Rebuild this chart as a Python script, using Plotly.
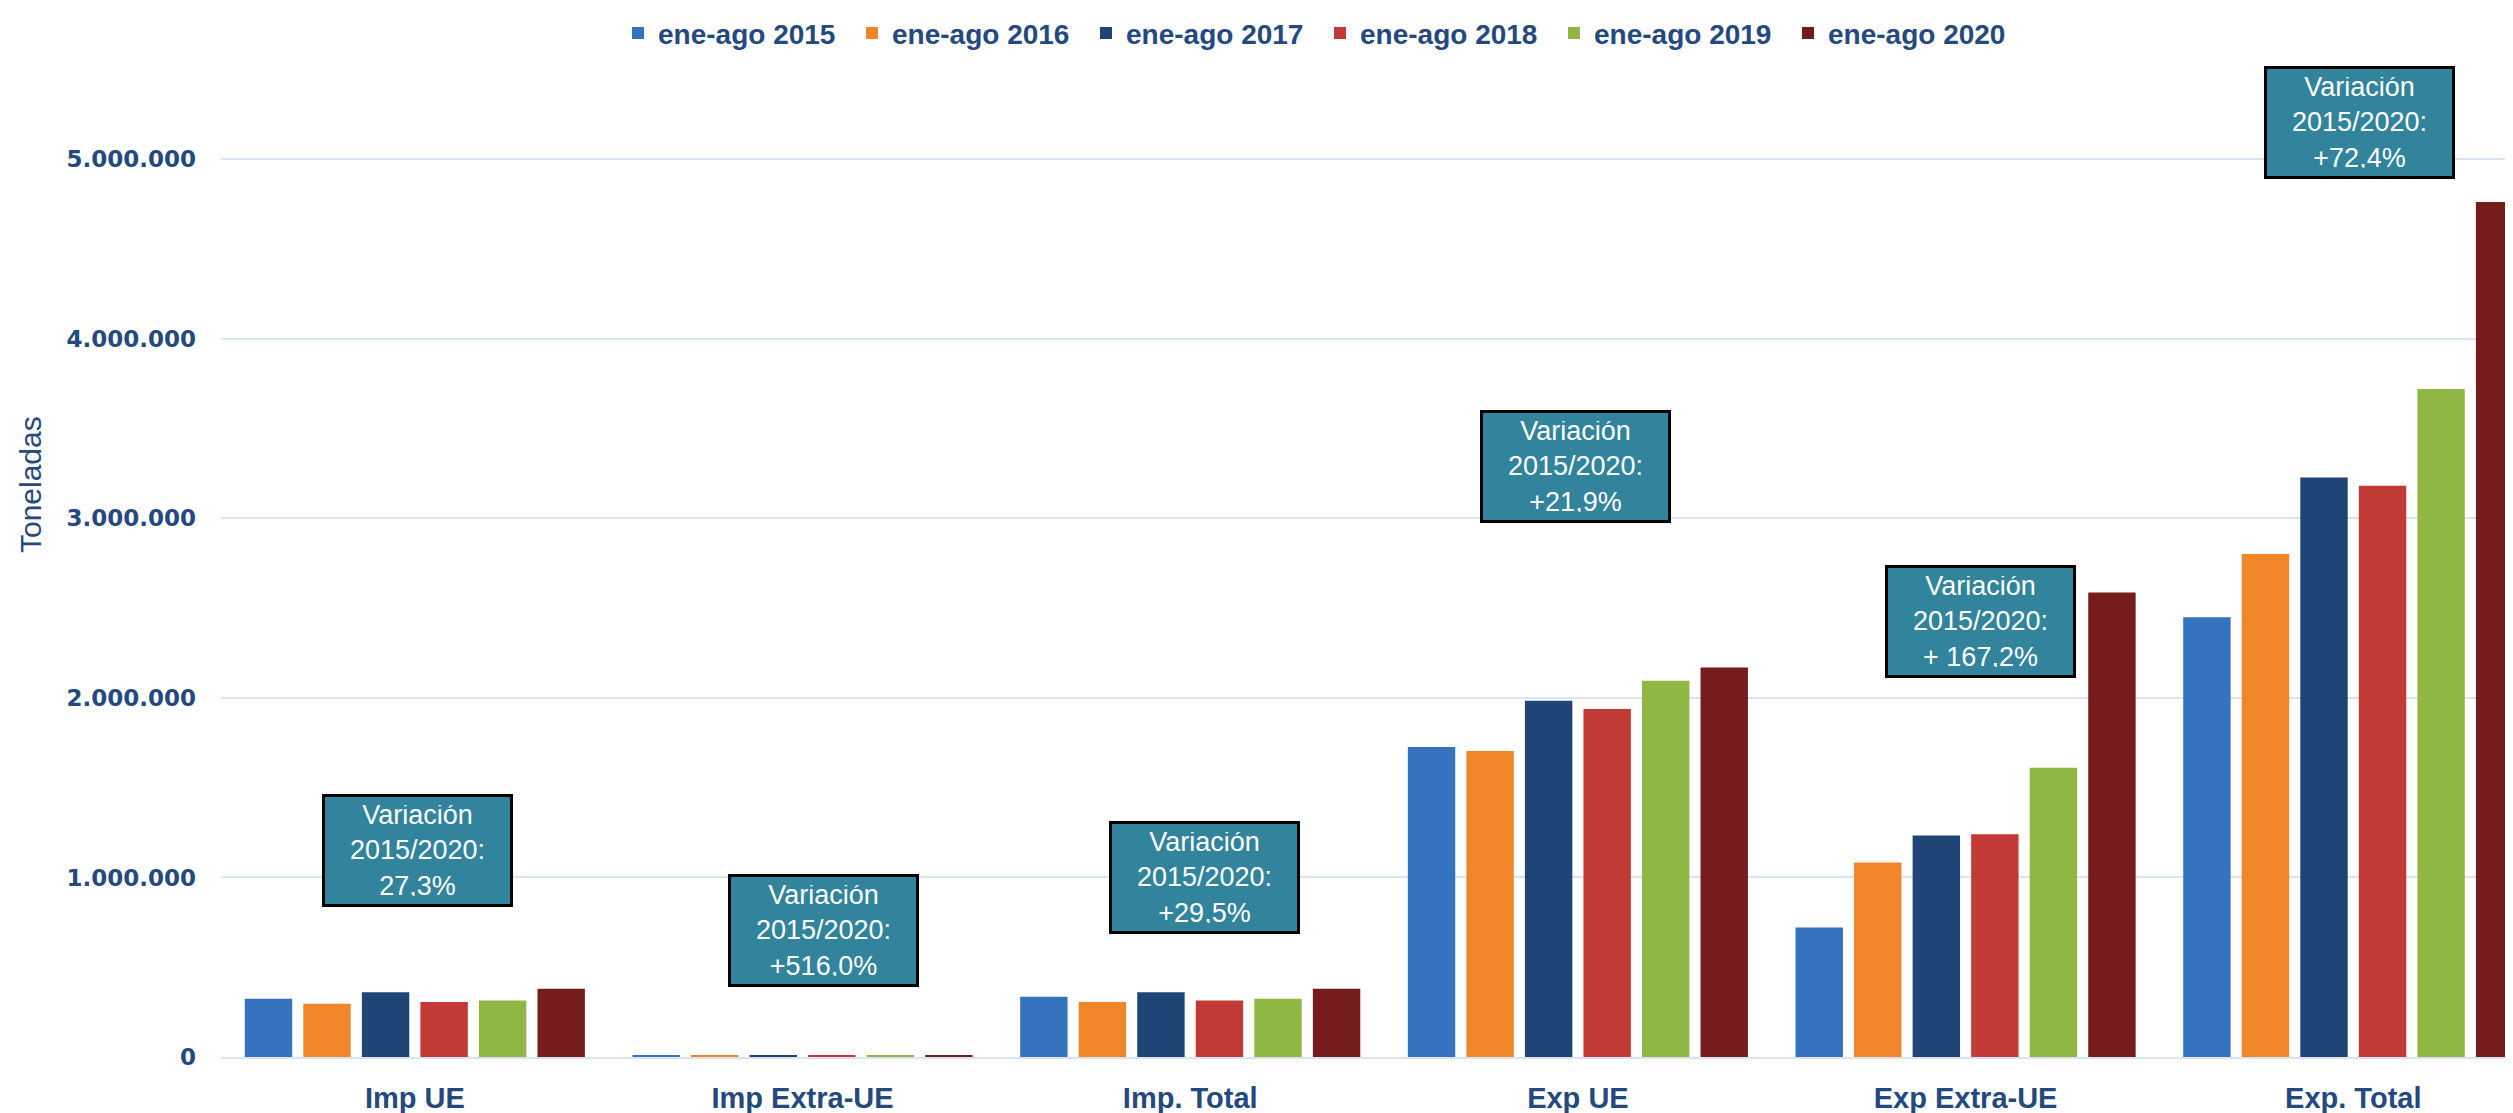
import plotly.graph_objects as go

categories = ["Imp UE", "Imp Extra-UE", "Imp. Total", "Exp UE", "Exp Extra-UE", "Exp. Total"]
series_names = ["ene-ago 2015", "ene-ago 2016", "ene-ago 2017", "ene-ago 2018", "ene-ago 2019", "ene-ago 2020"]

v2015 = [325000, 6000, 335000, 1726000, 721000, 2449000]
v2016 = [297000, 7000, 306000, 1705000, 1084000, 2802000]
v2017 = [361000, 8000, 361000, 1984000, 1233000, 3228000]
v2018 = [306000, 7500, 315000, 1938000, 1241000, 3182000]
v2019 = [315000, 8500, 325000, 2096000, 1611000, 3721000]
v2020 = [380000, 9500, 380000, 2170000, 2587000, 4762000]
series_values = [v2015, v2016, v2017, v2018, v2019, v2020]

colors = ["#3673BE", "#F0852A", "#1E4576", "#C23A36", "#90B744", "#751D1C"]

y_ticks = [0, 1000000, 2000000, 3000000, 4000000, 5000000]
y_tick_labels = ["0", "1.000.000", "2.000.000", "3.000.000", "4.000.000", "5.000.000"]

variation_texts = [
    "Variación<br>2015/2020:<br>27,3%",
    "Variación<br>2015/2020:<br>+516,0%",
    "Variación<br>2015/2020:<br>+29,5%",
    "Variación<br>2015/2020:<br>+21,9%",
    "Variación<br>2015/2020:<br>+ 167,2%",
    "Variación<br>2015/2020:<br>+72,4%",
]
# layout placement of the variation boxes (x in category units, y in data units)
box_x = [0.008, 1.055, 2.036, 2.993, 4.038, 5.015]
box_y = [1150000, 702000, 1001000, 3291000, 2423000, 5205000]

TXT = "#23497E"

# page geometry (the page body adds an 8px offset)
W, H = 2505, 1105
L, R, T, B = 213, 0, 52, 56
PW, PH = W - L - R, H - T - B


def paper_x(page_x):
    return (page_x - 8 - L) / PW


def paper_y(page_y):
    return (H - B - (page_y - 8)) / PH


fig = go.Figure()
for name, vals, col in zip(series_names, series_values, colors):
    fig.add_trace(go.Bar(name=name, x=categories, y=vals, marker=dict(color=col, line=dict(width=0))))

for t, x, y in zip(variation_texts, box_x, box_y):
    fig.add_annotation(
        x=x, y=y, xref="x", yref="y", text=t, showarrow=False,
        font=dict(family="Liberation Sans, Arial, sans-serif", size=27, color="white"),
        bgcolor="#31849B", bordercolor="black", borderwidth=3, borderpad=8,
        width=169, height=91, align="center", valign="middle",
    )

fig.add_annotation(
    text="Toneladas", x=paper_x(30), y=paper_y(481), xref="paper", yref="paper",
    xanchor="center", yanchor="middle", showarrow=False,
    textangle=-90, font=dict(family="Liberation Sans Narrow, Liberation Sans, Arial", size=30, color=TXT),
)

fig.update_layout(
    width=W, height=H,
    margin=dict(l=L, r=R, t=T, b=B),
    paper_bgcolor="white", plot_bgcolor="white",
    barmode="group", bargap=0.094, bargroupgap=0.19,
    showlegend=True,
    legend=dict(
        orientation="h", x=paper_x(618), xanchor="left", y=paper_y(26), yanchor="middle",
        font=dict(family="Liberation Sans, Arial, sans-serif", size=28, color=TXT, weight="bold"),
        itemwidth=30, traceorder="normal", entrywidth=189,
    ),
    xaxis=dict(
        range=[-0.5, 5.412], showgrid=False, showline=True, linecolor="#D9E3F1", linewidth=2,
        ticks="", ticklabelstandoff=14,
        tickfont=dict(family="Liberation Sans, Arial, sans-serif", size=29, color=TXT, weight="bold"),
    ),
    yaxis=dict(
        range=[0, 5514000], tickvals=y_ticks, ticktext=y_tick_labels,
        showgrid=True, gridcolor="#D9E3F1", gridwidth=1.5, zeroline=False,
        ticks="", ticklen=0, ticklabelstandoff=24,
        tickfont=dict(family="DejaVu Sans, Verdana, sans-serif", size=23, color=TXT, weight="bold"),
    ),
)

fig.write_html("out.html")
